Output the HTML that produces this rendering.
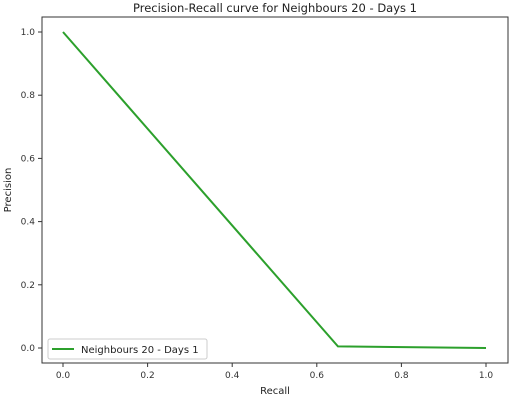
<!DOCTYPE html>
<html><head><style>
body{margin:0;background:#fff;font-family:"Liberation Sans","DejaVu Sans",sans-serif;}
</style></head><body>
<svg id="chart" width="510" height="405" xmlns="http://www.w3.org/2000/svg" font-family="DejaVu Sans, Liberation Sans, sans-serif">
<text x="275" y="12" text-anchor="middle" font-size="11.5" fill="#222">Precision-Recall curve for Neighbours 20 - Days 1</text>
<rect x="42" y="17" width="466" height="346" fill="none" stroke="#333" stroke-width="1"/>
<g id="xticks"></g><g id="yticks"></g>
<polyline id="line" fill="none" stroke="#2ca02c" stroke-width="2"/>
<text x="275" y="394" text-anchor="middle" font-size="10" fill="#222">Recall</text>
<text transform="translate(11,190) rotate(-90)" text-anchor="middle" font-size="10" fill="#222">Precision</text>
<g>
<rect x="48" y="339" width="159" height="20" rx="2" fill="#fff" stroke="#ccc"/>
<line x1="52" y1="349" x2="74" y2="349" stroke="#2ca02c" stroke-width="2"/>
<text x="81" y="353" font-size="10" fill="#222">Neighbours 20 - Days 1</text>
</g>
</svg>
<script>
const recall=[0,0.65,1];
const precision=[1,0.005,0];
const xTicks=["0.0","0.2","0.4","0.6","0.8","1.0"];
const yTicks=["0.0","0.2","0.4","0.6","0.8","1.0"];
const sx=v=>63+v*(486-63), sy=v=>348-v*(348-32);
const NS="http://www.w3.org/2000/svg";
const xg=document.getElementById('xticks'), yg=document.getElementById('yticks');
xTicks.forEach(t=>{const x=sx(parseFloat(t));
 const l=document.createElementNS(NS,'line');l.setAttribute('x1',x);l.setAttribute('x2',x);l.setAttribute('y1',363);l.setAttribute('y2',367);l.setAttribute('stroke','#333');
 
 xg.appendChild(l);
 const tx=document.createElementNS(NS,'text');tx.setAttribute('x',x);tx.setAttribute('y',378);tx.setAttribute('text-anchor','middle');tx.setAttribute('font-size','9');tx.setAttribute('fill','#333');tx.textContent=t;
 
 xg.appendChild(tx);});
yTicks.forEach(t=>{const y=sy(parseFloat(t));
 const l=document.createElementNS(NS,'line');l.setAttribute('x1',38);l.setAttribute('x2',42);l.setAttribute('y1',y);l.setAttribute('y2',y);l.setAttribute('stroke','#333');
 
 yg.appendChild(l);
 const tx=document.createElementNS(NS,'text');tx.setAttribute('x',35);tx.setAttribute('y',y+3);tx.setAttribute('text-anchor','end');tx.setAttribute('font-size','9');tx.setAttribute('fill','#333');tx.textContent=t;
 
 yg.appendChild(tx);});
document.getElementById('line').setAttribute('points',recall.map((r,i)=>sx(r)+','+sy(precision[i])).join(' '));
</script>
</body></html>
